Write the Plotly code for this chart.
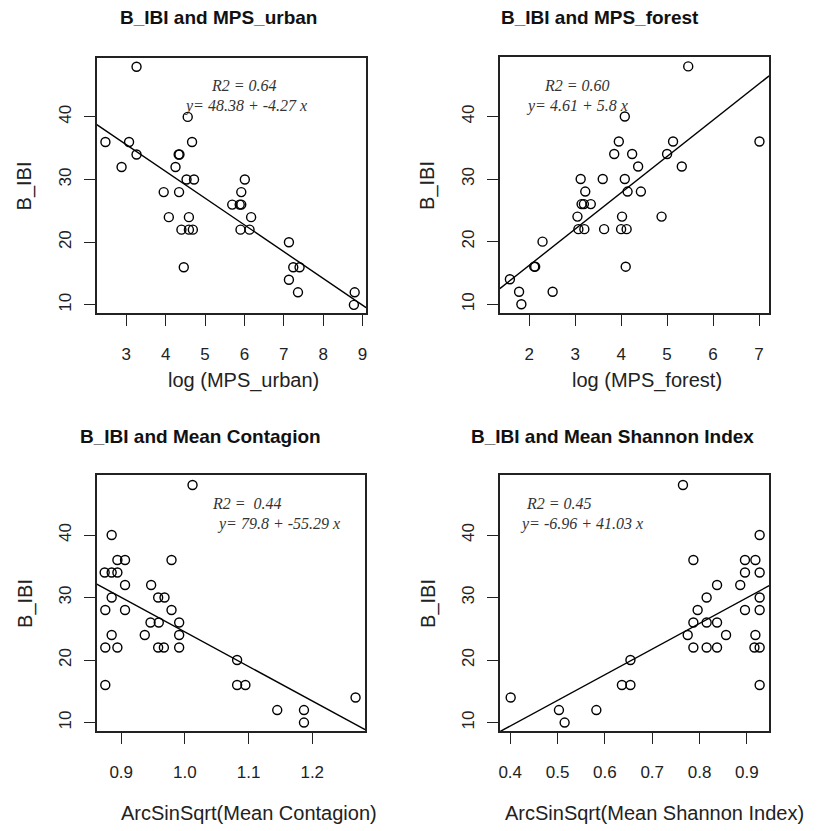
import plotly.graph_objects as go

# ---------------- data ----------------
urban_x = [3.26, 2.47, 3.07, 3.26, 2.88, 4.56, 4.67, 4.33, 4.35, 4.25, 4.53, 4.72, 3.95, 4.34,
           4.08, 4.59, 4.40, 4.59, 4.69, 4.46, 5.69, 5.88, 5.92, 5.92, 6.01, 6.17, 5.90, 6.13,
           7.13, 7.24, 7.40, 7.13, 7.36, 8.80, 8.78]
urban_y = [48, 36, 36, 34, 32, 40, 36, 34, 34, 32, 30, 30, 28, 28,
           24, 24, 22, 22, 22, 16, 26, 26, 26, 28, 30, 24, 22, 22,
           20, 16, 16, 14, 12, 12, 10]

forest_x = [5.46, 4.08, 3.95, 5.13, 7.01, 3.85, 4.24, 5.00, 4.37, 5.32, 3.12, 3.60, 4.08, 3.22,
            4.14, 4.43, 3.14, 3.19, 3.34, 3.05, 4.02, 4.88, 3.07, 3.20, 3.63, 4.00, 4.12, 2.29,
            2.11, 2.13, 4.10, 1.58, 1.78, 2.51, 1.83]
forest_y = [48, 40, 36, 36, 36, 34, 34, 34, 32, 32, 30, 30, 30, 28,
            28, 28, 26, 26, 26, 24, 24, 24, 22, 22, 22, 22, 22, 20,
            16, 16, 16, 14, 12, 12, 10]

contag_x = [1.012, 0.885, 0.894, 0.906, 0.979, 0.874, 0.885, 0.894, 0.906, 0.947, 0.885, 0.958,
            0.968, 0.875, 0.906, 0.979, 0.946, 0.959, 0.991, 0.937, 0.885, 0.991, 0.875, 0.894,
            0.958, 0.967, 0.991, 0.875, 1.082, 1.082, 1.095, 1.145, 1.187, 1.187, 1.268]
contag_y = [48, 40, 36, 36, 36, 34, 34, 34, 32, 32, 30, 30,
            30, 28, 28, 28, 26, 26, 26, 24, 24, 24, 22, 22,
            22, 22, 22, 16, 20, 16, 16, 12, 12, 10, 14]

shannon_x = [0.765, 0.927, 0.787, 0.896, 0.918, 0.896, 0.927, 0.837, 0.886, 0.815, 0.927, 0.796,
             0.896, 0.927, 0.787, 0.815, 0.837, 0.775, 0.856, 0.918, 0.787, 0.815, 0.837, 0.916,
             0.927, 0.927, 0.654, 0.636, 0.654, 0.401, 0.503, 0.515, 0.582]
shannon_y = [48, 40, 36, 36, 36, 34, 34, 32, 32, 30, 30, 28,
             28, 28, 26, 26, 26, 24, 24, 24, 22, 22, 22, 22,
             22, 16, 20, 16, 16, 14, 12, 10, 12]

# regression coefficients (intercept, slope) as printed
fits = [(48.38, -4.27), (4.61, 5.8), (79.8, -55.29), (-6.96, 41.03)]
titles = ["B_IBI and MPS_urban", "B_IBI and MPS_forest",
          "B_IBI and Mean Contagion", "B_IBI and Mean Shannon Index"]
xlabels = ["log (MPS_urban)", "log (MPS_forest)",
           "ArcSinSqrt(Mean Contagion)", "ArcSinSqrt(Mean Shannon Index)"]
ylabel = "B_IBI"
r2_texts = ["R2 = 0.64", "R2 = 0.60", "R2 =  0.44", "R2 = 0.45"]
eq_texts = ["y= 48.38 + -4.27 x", "y= 4.61 + 5.8 x", "y= 79.8 + -55.29 x", "y= -6.96 + 41.03 x"]
xticks = [[3, 4, 5, 6, 7, 8, 9], [2, 3, 4, 5, 6, 7],
          [0.9, 1.0, 1.1, 1.2], [0.4, 0.5, 0.6, 0.7, 0.8, 0.9]]
xticktext = [["3", "4", "5", "6", "7", "8", "9"], ["2", "3", "4", "5", "6", "7"],
             ["0.9", "1.0", "1.1", "1.2"], ["0.4", "0.5", "0.6", "0.7", "0.8", "0.9"]]
yticks = [10, 20, 30, 40]

# ---------------- layout geometry (pixels) ----------------
W, H = 819, 831
boxes = [(96, 366, 58, 313), (500, 770, 57, 313), (96, 365, 475, 731), (500, 770, 475, 731)]
xranges = [[2.25, 9.09], [1.36, 7.22], [0.8616, 1.283], [0.378, 0.947]]
yranges = [[8.7, 49.4], [8.6, 49.5], [8.65, 49.6], [8.65, 49.6]]

title_pos = [(218, 18), (600, 18), (200, 437), (613, 437)]
xlab_pos = [(243, 380), (648, 380), (249, 813), (655, 813)]
ylab_x = [24, 428, 24, 428]
r2_pos = [(244, 86), (577, 86), (247, 504), (559, 504)]
eq_pos = [(245, 106), (577, 106), (278, 524), (582, 524)]

xs = [urban_x, forest_x, contag_x, shannon_x]
ys = [urban_y, forest_y, contag_y, shannon_y]

fig = go.Figure()
annotations = []
FONT = "Liberation Sans, Arial, sans-serif"
SERIF = "Liberation Serif, Times New Roman, serif"

def px(x):
    return x / W

def py(y):
    return 1 - y / H

for i in range(4):
    n = "" if i == 0 else str(i + 1)
    xa, ya = "x" + n, "y" + n
    l, r, t, b = boxes[i]
    fig.add_trace(go.Scatter(
        x=xs[i], y=ys[i], mode="markers", xaxis=xa, yaxis=ya,
        marker=dict(symbol="circle-open", size=9, color="black", line=dict(width=1.4, color="black")),
        showlegend=False, cliponaxis=False))
    a, s = fits[i]
    lx = xranges[i]
    fig.add_trace(go.Scatter(
        x=lx, y=[a + s * v for v in lx], mode="lines", xaxis=xa, yaxis=ya,
        line=dict(color="black", width=1.4), showlegend=False))
    axis_common = dict(showgrid=False, zeroline=False, showline=True, mirror=True,
                       linecolor="#222", linewidth=1.6, ticks="outside", ticklen=11,
                       tickwidth=1.4, tickcolor="#222",
                       tickfont=dict(family=FONT, size=17, color="#222"))
    fig.update_layout(**{
        ("xaxis" + n): dict(domain=[px(l), px(r)], range=xranges[i], anchor=ya,
                            tickvals=xticks[i], ticktext=xticktext[i],
                            ticklabelstandoff=14, **axis_common),
        ("yaxis" + n): dict(domain=[py(b), py(t)], range=yranges[i], anchor=xa,
                            tickvals=yticks, tickangle=-90, ticklabelstandoff=6,
                            **axis_common),
    })
    annotations.append(dict(text="<b>" + titles[i] + "</b>", x=px(title_pos[i][0]), y=py(title_pos[i][1]),
                            xref="paper", yref="paper", showarrow=False, xanchor="center", yanchor="middle",
                            font=dict(family=FONT, size=19, color="#111")))
    annotations.append(dict(text=xlabels[i], x=px(xlab_pos[i][0]), y=py(xlab_pos[i][1]),
                            xref="paper", yref="paper", showarrow=False, xanchor="center", yanchor="middle",
                            font=dict(family=FONT, size=20, color="#222")))
    annotations.append(dict(text=ylabel, x=px(ylab_x[i]), y=py((t + b) / 2),
                            xref="paper", yref="paper", showarrow=False, xanchor="center", yanchor="middle",
                            textangle=-90, font=dict(family=FONT, size=20, color="#222")))
    annotations.append(dict(text="<i>" + r2_texts[i] + "</i>", x=px(r2_pos[i][0]), y=py(r2_pos[i][1]),
                            xref="paper", yref="paper", showarrow=False, xanchor="center", yanchor="middle",
                            borderpad=0, font=dict(family=SERIF, size=16, color="#333")))
    annotations.append(dict(text="<i>" + eq_texts[i] + "</i>", x=px(eq_pos[i][0]), y=py(eq_pos[i][1]),
                            xref="paper", yref="paper", showarrow=False, xanchor="center", yanchor="middle",
                            borderpad=0, font=dict(family=SERIF, size=16, color="#333")))

fig.update_layout(width=W, height=H, margin=dict(l=0, r=0, t=0, b=0),
                  paper_bgcolor="white", plot_bgcolor="white",
                  annotations=annotations, showlegend=False)

fig.write_html("out.html")
